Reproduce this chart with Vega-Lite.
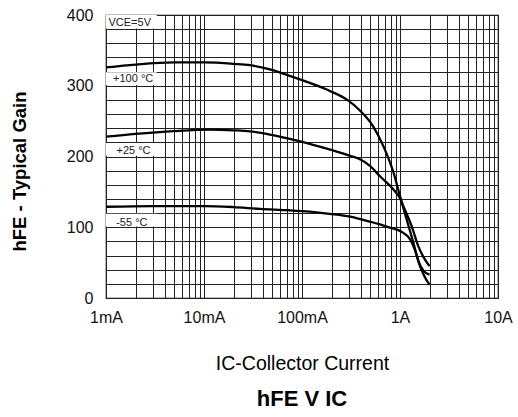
{
  "$schema": "https://vega.github.io/schema/vega-lite/v6.json",
  "width": 392,
  "height": 283,
  "autosize": "none",
  "padding": {"left": 106, "top": 15, "right": 20, "bottom": 119},
  "background": "white",
  "config": {
    "font": "Liberation Sans",
    "view": {"stroke": "#000", "strokeWidth": 1.2},
    "axis": {
      "domain": false,
      "ticks": false,
      "grid": true,
      "gridColor": "#222",
      "gridOpacity": 1,
      "gridWidth": 1,
      "labelColor": "#111",
      "labelFont": "Liberation Sans",
      "labelFontSize": 16,
      "titleColor": "#000",
      "titleFont": "Liberation Sans",
      "labelFlush": false,
      "labelBound": false,
      "labelOverlap": false
    }
  },
  "title": {
    "text": "hFE V IC",
    "orient": "bottom",
    "anchor": "middle",
    "fontSize": 22,
    "fontWeight": "bold",
    "font": "Liberation Sans",
    "color": "#000",
    "offset": 16
  },
  "datasets": {
    "curves": [
      {"series": "+100", "ic": 0.001, "hfe": 326},
      {"series": "+100", "ic": 0.002, "hfe": 330},
      {"series": "+100", "ic": 0.005, "hfe": 333},
      {"series": "+100", "ic": 0.01, "hfe": 333},
      {"series": "+100", "ic": 0.02, "hfe": 331},
      {"series": "+100", "ic": 0.0295, "hfe": 329},
      {"series": "+100", "ic": 0.047, "hfe": 323},
      {"series": "+100", "ic": 0.075, "hfe": 314},
      {"series": "+100", "ic": 0.12, "hfe": 304},
      {"series": "+100", "ic": 0.19, "hfe": 293},
      {"series": "+100", "ic": 0.29, "hfe": 280},
      {"series": "+100", "ic": 0.39, "hfe": 265},
      {"series": "+100", "ic": 0.53, "hfe": 243},
      {"series": "+100", "ic": 0.68, "hfe": 214},
      {"series": "+100", "ic": 0.86, "hfe": 177},
      {"series": "+100", "ic": 1.0, "hfe": 144},
      {"series": "+100", "ic": 1.17, "hfe": 111},
      {"series": "+100", "ic": 1.37, "hfe": 78},
      {"series": "+100", "ic": 1.54, "hfe": 52},
      {"series": "+100", "ic": 1.75, "hfe": 38},
      {"series": "+100", "ic": 2.0, "hfe": 33},
      {"series": "+25", "ic": 0.001, "hfe": 228},
      {"series": "+25", "ic": 0.002, "hfe": 232},
      {"series": "+25", "ic": 0.005, "hfe": 236},
      {"series": "+25", "ic": 0.0115, "hfe": 238},
      {"series": "+25", "ic": 0.02, "hfe": 237},
      {"series": "+25", "ic": 0.0295, "hfe": 235.5},
      {"series": "+25", "ic": 0.047, "hfe": 231},
      {"series": "+25", "ic": 0.075, "hfe": 225},
      {"series": "+25", "ic": 0.12, "hfe": 218},
      {"series": "+25", "ic": 0.19, "hfe": 210},
      {"series": "+25", "ic": 0.31, "hfe": 201},
      {"series": "+25", "ic": 0.39, "hfe": 196},
      {"series": "+25", "ic": 0.49, "hfe": 187},
      {"series": "+25", "ic": 0.625, "hfe": 172},
      {"series": "+25", "ic": 0.86, "hfe": 153},
      {"series": "+25", "ic": 1.0, "hfe": 141},
      {"series": "+25", "ic": 1.08, "hfe": 130},
      {"series": "+25", "ic": 1.32, "hfe": 101},
      {"series": "+25", "ic": 1.54, "hfe": 73},
      {"series": "+25", "ic": 1.75, "hfe": 57},
      {"series": "+25", "ic": 2.0, "hfe": 45},
      {"series": "-55", "ic": 0.001, "hfe": 129},
      {"series": "-55", "ic": 0.003, "hfe": 130},
      {"series": "-55", "ic": 0.01, "hfe": 130},
      {"series": "-55", "ic": 0.02, "hfe": 128.5},
      {"series": "-55", "ic": 0.037, "hfe": 126},
      {"series": "-55", "ic": 0.075, "hfe": 124},
      {"series": "-55", "ic": 0.12, "hfe": 122},
      {"series": "-55", "ic": 0.19, "hfe": 119},
      {"series": "-55", "ic": 0.31, "hfe": 115},
      {"series": "-55", "ic": 0.49, "hfe": 108},
      {"series": "-55", "ic": 0.625, "hfe": 104},
      {"series": "-55", "ic": 0.8, "hfe": 99},
      {"series": "-55", "ic": 0.96, "hfe": 96},
      {"series": "-55", "ic": 1.08, "hfe": 92},
      {"series": "-55", "ic": 1.22, "hfe": 86},
      {"series": "-55", "ic": 1.42, "hfe": 68},
      {"series": "-55", "ic": 1.6, "hfe": 45},
      {"series": "-55", "ic": 1.8, "hfe": 29},
      {"series": "-55", "ic": 2.0, "hfe": 19}
    ],
    "labels": [
      {"text": "VCE=5V", "ic": 0.00106, "hfe": 388, "x1": 0.001, "x2": 0.0033, "y1": 381, "y2": 400},
      {"text": "+100 °C", "ic": 0.00118, "hfe": 309, "x1": 0.001, "x2": 0.0033, "y1": 301, "y2": 319},
      {"text": "+25 °C", "ic": 0.00128, "hfe": 208, "x1": 0.001, "x2": 0.0033, "y1": 201, "y2": 219},
      {"text": "-55 °C", "ic": 0.00127, "hfe": 106, "x1": 0.001, "x2": 0.0033, "y1": 101, "y2": 119}
    ]
  },
  "layer": [
    {
      "data": {"name": "curves"},
      "mark": {"type": "line", "color": "#000", "strokeWidth": 2.3, "interpolate": "monotone"},
      "encoding": {
        "x": {
          "field": "ic",
          "type": "quantitative",
          "scale": {"type": "log", "domain": [0.001, 10], "nice": false},
          "axis": {
            "values": [0.001,0.002,0.003,0.004,0.005,0.006,0.007,0.008,0.009,0.01,0.02,0.03,0.04,0.05,0.06,0.07,0.08,0.09,0.1,0.2,0.3,0.4,0.5,0.6,0.7,0.8,0.9,1,2,3,4,5,6,7,8,9,10],
            "tickCount": 50,
            "labelExpr": "datum.value==0.001?'1mA':datum.value==0.01?'10mA':datum.value==0.1?'100mA':datum.value==1?'1A':datum.value==10?'10A':''",
            "labelOverlap": false,
            "labelPadding": 11,
            "labelDx": 5,
            "title": "IC-Collector Current",
            "titleFontSize": 19.5,
            "titleFontWeight": "normal",
            "titlePadding": 29
          }
        },
        "y": {
          "field": "hfe",
          "type": "quantitative",
          "scale": {"domain": [0, 400], "nice": false},
          "axis": {
            "values": [0,20,40,60,80,100,120,140,160,180,200,220,240,260,280,300,320,340,360,380,400],
            "tickCount": 30,
            "labelExpr": "datum.value % 100 == 0 ? datum.label : ''",
            "labelOverlap": false,
            "labelPadding": 13,
            "title": "hFE - Typical Gain",
            "titleFontSize": 18.5,
            "titleFontWeight": "bold",
            "titleAngle": -90,
            "titleX": -81,
            "titleY": 156,
            "titleAlign": "center",
            "titleBaseline": "alphabetic"
          }
        },
        "detail": {"field": "series"}
      }
    },
    {
      "data": {"name": "labels"},
      "mark": {"type": "rect", "fill": "white", "stroke": null},
      "encoding": {
        "x": {"field": "x1", "type": "quantitative", "scale": {"type": "log"}},
        "x2": {"field": "x2"},
        "y": {"field": "y1", "type": "quantitative"},
        "y2": {"field": "y2"}
      }
    },
    {
      "data": {"name": "labels"},
      "mark": {"type": "text", "align": "left", "baseline": "middle", "fontSize": 11, "color": "#222", "font": "Liberation Sans"},
      "encoding": {
        "x": {"field": "ic", "type": "quantitative", "scale": {"type": "log"}},
        "y": {"field": "hfe", "type": "quantitative"},
        "text": {"field": "text"}
      }
    }
  ]
}
